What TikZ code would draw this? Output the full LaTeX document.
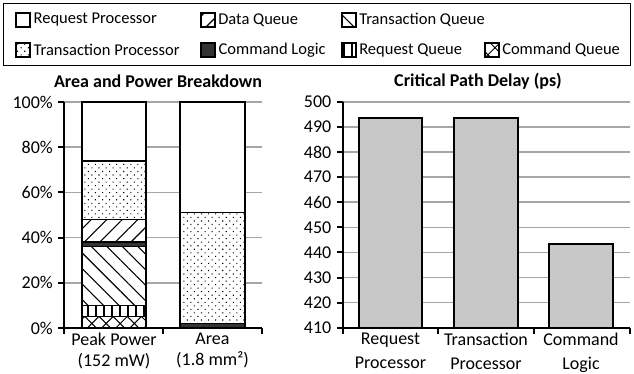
\documentclass[tikz,border=0pt]{standalone}
\usepackage{fontspec}
\setmainfont{Carlito}
\usetikzlibrary{patterns.meta, positioning}
\definecolor{cgrid}{HTML}{A6A6A6}
\definecolor{cbar}{HTML}{C8C8C8}
\tikzset{
  every picture/.style={font=\fontsize{18}{21}\selectfont, line width=1.5pt},
  gridline/.style={draw=cgrid, line width=1.5pt},
  axis/.style={draw=black, line width=2pt},
  seg/.style={draw=black, line width=1.5pt, preaction={fill=white}},
  key/.style={draw=black, line width=1.8pt, minimum size=14pt, inner sep=0pt, preaction={fill=white}},
  keytext/.style={font=\fontsize{16.5}{18}\selectfont, anchor=west, inner sep=0pt},
  title/.style={font=\fontsize{18}{21}\selectfont\bfseries},
  ylab/.style={anchor=east, inner sep=0pt},
  xlab/.style={anchor=north, inner sep=0pt, align=center},
  % fills of the parts
  reqproc/.style={fill=white},
  dataq/.style={pattern={Lines[angle=45, distance=11pt, line width=1.1pt]}},
  transq/.style={pattern={Lines[angle=-45, distance=11pt, line width=1.1pt]}},
  transproc/.style={pattern={Dots[angle=45, distance=5pt, radius=0.75pt]}},
  cmdlogic/.style={fill=black!80},
  reqq/.style={pattern={Lines[angle=90, distance=8pt, line width=1.1pt]}},
  cmdq/.style={pattern={Hatch[angle=45, distance=10pt, line width=1pt]}},
}

\begin{document}
\begin{tikzpicture}[x=1pt, y=-1pt]
  \useasboundingbox (0,0) rectangle (634,373);
  % legend
  \draw[line width=1pt] (3,3) rectangle (630,65);
  \node[key, reqproc] (k1) at (23,20) {};
  \node[keytext, right=2pt of k1] (t1) {Request Processor};
  \node[key, dataq] (k2) at (208,20) {};
  \node[keytext, right=2pt of k2] (t2) {Data Queue};
  \node[key, transq] (k3) at (349,20) {};
  \node[keytext, right=2pt of k3] (t3) {Transaction Queue};
  \node[key, transproc] (k4) at (23,50) {};
  \node[keytext, right=2pt of k4] (t4) {Transaction Processor};
  \node[key, cmdlogic] (k5) at (208,50) {};
  \node[keytext, right=2pt of k5] (t5) {Command Logic};
  \node[key, reqq] (k6) at (349,50) {};
  \node[keytext, right=2pt of k6] (t6) {Request Queue};
  \node[key, cmdq] (k7) at (492,50) {};
  \node[keytext, right=2pt of k7] (t7) {Command Queue};

  % left chart: area and power breakdown
  \node[title] (ttlA) at (158,81) {Area and Power Breakdown};
  \foreach \p in {20,40,...,100}
    \draw[gridline] (64,{328-2.26*\p}) -- (262,{328-2.26*\p});
  \foreach \p in {0,20,...,100} {
    \draw[axis] (58,{328-2.26*\p}) -- (64,{328-2.26*\p});
    \node[ylab] (pc\p) at (53.5,{328-2.26*\p}) {\p\%};
  }
  \draw[seg, cmdq] (82,328) rectangle (146,{328-2.26*5});
  \draw[seg, reqq] (82,{328-2.26*5}) rectangle (146,{328-2.26*10});
  \draw[seg, transq] (82,{328-2.26*10}) rectangle (146,{328-2.26*36});
  \draw[seg, cmdlogic] (82,{328-2.26*36}) rectangle (146,{328-2.26*38});
  \draw[seg, dataq] (82,{328-2.26*38}) rectangle (146,{328-2.26*48});
  \draw[seg, transproc] (82,{328-2.26*48}) rectangle (146,{328-2.26*74});
  \draw[seg, reqproc] (82,{328-2.26*74}) rectangle (146,102);
  \draw[seg, cmdlogic] (180,328) rectangle (245,{328-2.26*2});
  \draw[seg, transproc] (180,{328-2.26*2}) rectangle (245,{328-2.26*51});
  \draw[seg, reqproc] (180,{328-2.26*51}) rectangle (245,102);
  \draw[axis] (64,102) -- (64,328) -- (262,328);
  \foreach \x in {64,163,262}
    \draw[axis] (\x,328) -- (\x,334);
  \node[xlab] (xpp) at (114,332) {Peak Power\\(152 mW)};
  \node[xlab] (xar) at (212.5,332) {Area\\(1.8 mm²)};

  % right chart: critical path delay
  \node[title] (ttlB) at (478,81) {Critical Path Delay (ps)};
  \foreach \v in {420,430,...,500}
    \draw[gridline] (343,{327.7-2.51*(\v-410)}) -- (630,{327.7-2.51*(\v-410)});
  \foreach \v in {410,420,...,500} {
    \draw[axis] (337,{327.7-2.51*(\v-410)}) -- (343,{327.7-2.51*(\v-410)});
    \node[ylab] (ps\v) at (332,{327.7-2.51*(\v-410)}) {\v};
  }
  \draw[seg, fill=cbar] (359,327.7) rectangle (422,{327.7-2.51*83.5});
  \draw[seg, fill=cbar] (454,327.7) rectangle (518,{327.7-2.51*83.5});
  \draw[seg, fill=cbar] (549,327.7) rectangle (613,{327.7-2.51*33.4});
  \draw[axis] (343,101.7) -- (343,327.7) -- (630,327.7);
  \foreach \x in {343,438,534,630}
    \draw[axis] (\x,327.7) -- (\x,334);
  \node[xlab, font=\fontsize{18}{24}\selectfont] (xrp) at (390.5,332) {Request\\Processor};
  \node[xlab, font=\fontsize{18}{24}\selectfont] (xtp) at (486,332) {Transaction\\Processor};
  \node[xlab, font=\fontsize{18}{24}\selectfont] (xcl) at (581,332) {Command\\Logic};
\end{tikzpicture}
\end{document}
